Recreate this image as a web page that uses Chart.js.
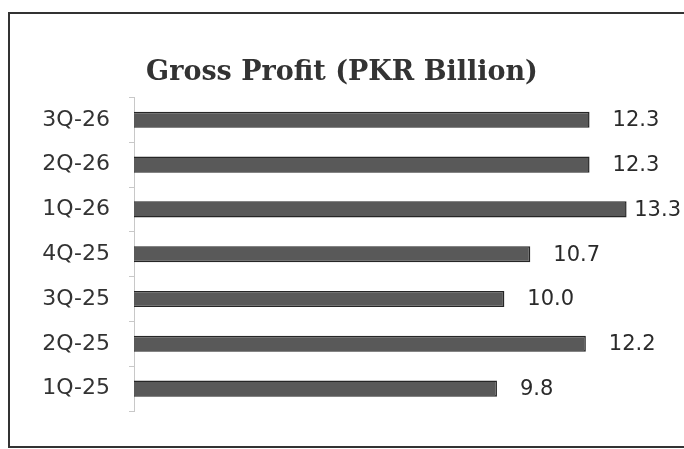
<!DOCTYPE html>
<html>
<head>
<meta charset="utf-8">
<script src="https://cdn.jsdelivr.net/npm/chart.js@4"></script>
<style>
  html, body { margin: 0; background: #fff; }
  #frame { position: absolute; left: 8px; top: 12px; width: 700px; height: 432px; border: 2px solid #333; }
  #wrap { position: absolute; left: 0; top: 0; width: 684px; height: 449px; }
</style>
</head>
<body>
<div id="frame"></div>
<div id="wrap"><canvas id="grossProfitChart"></canvas></div>
<script>
const quarters = ["1Q-25", "2Q-25", "3Q-25", "4Q-25", "1Q-26", "2Q-26", "3Q-26"];
const grossProfit = [9.8, 12.2, 10.0, 10.7, 13.3, 12.3, 12.3];
const chartTitle = "Gross Profit (PKR Billion)";

// value labels at the end of each bar, kept inside the canvas
const valueLabels = {
  id: "valueLabels",
  afterDatasetsDraw(chart) {
    const ctx = chart.ctx;
    const meta = chart.getDatasetMeta(0);
    ctx.save();
    ctx.font = "21px 'DejaVu Sans'";
    ctx.fillStyle = "#2a2a2a";
    ctx.textBaseline = "middle";
    meta.data.forEach((bar, i) => {
      const text = grossProfit[i].toFixed(1);
      const w = ctx.measureText(text).width;
      const x = Math.min(bar.x + 23, chart.width - w - 3);
      ctx.fillText(text, x, bar.y + 1);
    });
    ctx.restore();
  },
};

const ctx = document.getElementById("grossProfitChart").getContext("2d");
new Chart(ctx, {
  type: "bar",
  data: {
    labels: quarters,
    datasets: [
      {
        label: "Gross Profit",
        data: grossProfit,
        backgroundColor: "#595959",
        borderColor: "#262626",
        borderWidth: 1.5,
        barPercentage: 0.36,
        categoryPercentage: 1,
      },
    ],
  },
  options: {
    indexAxis: "y",
    responsive: true,
    maintainAspectRatio: false,
    animation: false,
    layout: { padding: { left: 0, right: 0, top: 0, bottom: 38 } },
    plugins: {
      legend: { display: false },
      tooltip: { enabled: false },
      title: {
        display: true,
        text: chartTitle,
        color: "#333",
        font: { family: "'DejaVu Serif'", size: 27, weight: "bold", lineHeight: 1.2 },
        padding: { top: 57, bottom: 8 },
      },
    },
    scales: {
      x: { display: false, min: 0, max: 14.85 },
      y: {
        reverse: true,
        afterFit(scale) {
          scale.width = 134;
        },
        border: { color: "#c8c8c8", width: 1 },
        grid: {
          offset: true,
          drawOnChartArea: false,
          drawTicks: true,
          tickLength: 5,
          color: "#c8c8c8",
        },
        ticks: {
          color: "#333",
          padding: 19,
          font: { family: "'DejaVu Sans'", size: 22 },
        },
      },
    },
  },
  plugins: [valueLabels],
});
</script>
</body>
</html>
